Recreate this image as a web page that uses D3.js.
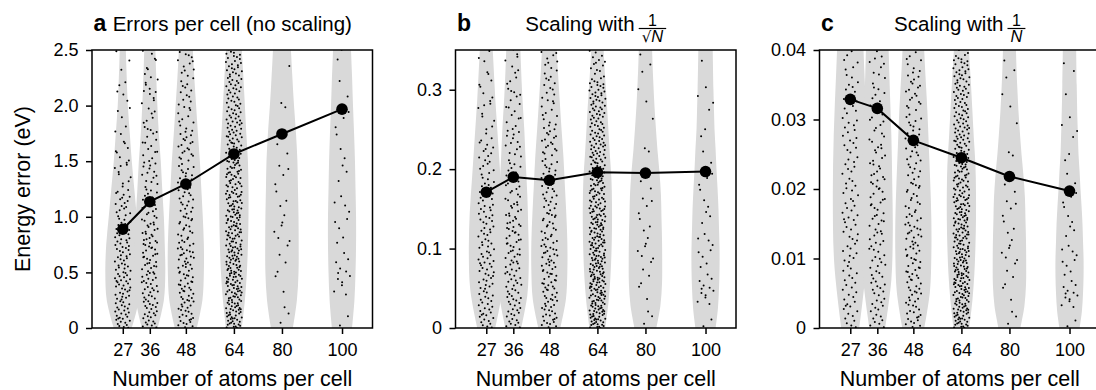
<!DOCTYPE html>
<html>
<head>
<meta charset="utf-8">
<script src="https://cdn.jsdelivr.net/npm/d3@7"></script>
<style>
  body { margin: 0; background: #fff; }
  svg { display: block; font-family: "Liberation Sans", Arial, sans-serif; }
</style>
</head>
<body>
<div id="chart"></div>
<script>
// categories
const atoms = [27, 36, 48, 64, 80, 100];

// mean error per cell
const meanNoScaling = [0.888, 1.136, 1.295, 1.565, 1.745, 1.968];
const meanSqrtScaled = [0.171, 0.190, 0.186, 0.196, 0.195, 0.197];
const meanPerAtom = [0.0329, 0.0316, 0.0270, 0.0245, 0.0218, 0.0197];

// tick values and labels
const ticksA = [0, 0.5, 1.0, 1.5, 2.0, 2.5];
const tickLabelsA = ['0', '0.5', '1.0', '1.5', '2.0', '2.5'];
const ticksB = [0, 0.1, 0.2, 0.3];
const tickLabelsB = ['0', '0.1', '0.2', '0.3'];
const ticksC = [0, 0.01, 0.02, 0.03, 0.04];
const tickLabelsC = ['0', '0.01', '0.02', '0.03', '0.04'];

// violin outlines: relative density at these error levels (eV, unscaled)
const densityLevels = [0, 0.25, 0.5, 0.75, 1, 1.25, 1.5, 1.75, 2, 2.25, 2.5, 2.75, 3, 3.5, 4];
const density27 = [0.50, 0.89, 0.97, 0.92, 0.78, 0.64, 0.50, 0.39, 0.28, 0.22, 0.17, 0.14, 0.11, 0.08, 0.06];
const density36 = [0.44, 0.78, 0.86, 0.83, 0.78, 0.69, 0.61, 0.50, 0.42, 0.36, 0.31, 0.28, 0.25, 0.19, 0.17];
const density48 = [0.61, 0.92, 1.00, 1.00, 0.94, 0.86, 0.78, 0.67, 0.57, 0.47, 0.39, 0.33, 0.28, 0.22, 0.17];
const density64 = [0.44, 0.61, 0.72, 0.78, 0.81, 0.81, 0.78, 0.69, 0.61, 0.53, 0.44, 0.36, 0.31, 0.25, 0.22];
const density80 = [0.61, 0.83, 0.92, 0.93, 0.92, 0.89, 0.86, 0.78, 0.67, 0.58, 0.50, 0.44, 0.39, 0.33, 0.31];
const density100 = [0.56, 0.69, 0.75, 0.78, 0.78, 0.75, 0.72, 0.67, 0.61, 0.56, 0.50, 0.47, 0.44, 0.40, 0.37];

// strip points: number of cells in each 0.25 eV bin from 0 to 4 eV
const binWidth = 0.25;
const counts27 = [28, 28, 25, 22, 18, 10, 8, 5, 5, 3, 2, 1, 1, 0, 0, 0];
const counts36 = [25, 24, 24, 22, 18, 14, 12, 10, 10, 8, 4, 2, 1, 1, 0, 0];
const counts48 = [25, 25, 24, 20, 18, 16, 18, 12, 12, 12, 6, 3, 1, 1, 0, 0];
const counts64 = [45, 45, 42, 40, 38, 34, 32, 28, 26, 24, 14, 8, 3, 2, 1, 1];
const counts80 = [3, 2, 4, 5, 4, 4, 2, 1, 1, 1, 2, 2, 1, 0, 0, 0];
const counts100 = [2, 7, 5, 5, 4, 3, 3, 3, 2, 1, 2, 2, 1, 1, 1, 1];

const densities = [density27, density36, density48, density64, density80, density100];
const counts = [counts27, counts36, counts48, counts64, counts80, counts100];

const width = 1096, height = 390;
const plotW = 280.5, plotTop = 50, plotBottom = 328;
const jitter = 8;

const panels = [
  { left: 92, letter: 'a', title: 'Errors per cell (no scaling)', div: n => 1,
    yMax: 2.5, ticks: ticksA, labels: tickLabelsA, mean: meanNoScaling },
  { left: 455.5, letter: 'b', title: 'Scaling with', frac: 'sqrt', div: n => Math.sqrt(n),
    yMax: 0.35, ticks: ticksB, labels: tickLabelsB, mean: meanSqrtScaled },
  { left: 819.5, letter: 'c', title: 'Scaling with', frac: 'n', div: n => n,
    yMax: 0.04, ticks: ticksC, labels: tickLabelsC, mean: meanPerAtom }
];

const svg = d3.select('#chart').append('svg')
  .attr('width', width)
  .attr('height', height)
  .style('background', '#fff');

// quasi-random spread (Halton), so the strip has no randomness
function halton(i, b) {
  let f = 1, r = 0;
  while (i > 0) { f /= b; r += f * (i % b); i = Math.floor(i / b); }
  return r;
}

// place every counted cell inside its bin
const strips = counts.map((cs, ci) => {
  const pts = [];
  let n = ci * 997 + 1;
  cs.forEach((c, b) => {
    for (let k = 0; k < c; k++, n++) {
      pts.push({ v: (b + halton(n, 3)) * binWidth, j: halton(n, 2) * 2 - 1 });
    }
  });
  return pts;
});

const wScale = d3.scaleLinear([0, 1], [0, 18]);

panels.forEach((p, pi) => {
  const g = svg.append('g').attr('transform', `translate(${p.left}, 0)`);
  const x = d3.scaleLinear([16.75, 110.15], [0, plotW]);
  const y = d3.scaleLinear([0, p.yMax], [plotBottom, plotTop]);

  g.append('clipPath').attr('id', 'clip' + pi)
    .append('rect')
    .attr('x', 0).attr('y', plotTop)
    .attr('width', plotW).attr('height', plotBottom - plotTop);

  const body = g.append('g').attr('clip-path', `url(#clip${pi})`);

  // violins
  atoms.forEach((n, i) => {
    const cx = x(n);
    const area = d3.area()
      .curve(d3.curveCatmullRom.alpha(0.5))
      .y(d => y(d.v / p.div(n)))
      .x0(d => cx - wScale(d.d))
      .x1(d => cx + wScale(d.d));
    const pts = densityLevels.map((v, k) => ({ v: v, d: densities[i][k] }));
    body.append('path')
      .attr('d', area(pts))
      .attr('fill', '#d9d9d9');
  });

  // strip points
  atoms.forEach((n, i) => {
    body.append('g').selectAll('circle')
      .data(strips[i].filter(d => d.v / p.div(n) <= p.yMax * 1.02))
      .join('circle')
      .attr('cx', d => x(n) + d.j * jitter)
      .attr('cy', d => y(d.v / p.div(n)))
      .attr('r', 1)
      .attr('fill', '#000');
  });

  // mean line
  const line = d3.line()
    .x((d, i) => x(atoms[i]))
    .y(d => y(d));
  body.append('path')
    .attr('d', line(p.mean))
    .attr('fill', 'none')
    .attr('stroke', '#000')
    .attr('stroke-width', 2);
  body.selectAll('.mean')
    .data(p.mean)
    .join('circle')
    .attr('class', 'mean')
    .attr('cx', (d, i) => x(atoms[i]))
    .attr('cy', d => y(d))
    .attr('r', 5.8)
    .attr('fill', '#000');

  // frame
  g.append('rect')
    .attr('x', 0).attr('y', plotTop)
    .attr('width', plotW).attr('height', plotBottom - plotTop)
    .attr('fill', 'none')
    .attr('stroke', '#000')
    .attr('stroke-width', 1.5);

  // axes
  const axisX = d3.axisBottom(x)
    .tickValues(atoms)
    .tickSize(6)
    .tickPadding(9)
    .tickSizeOuter(0);
  const gx = g.append('g')
    .attr('transform', `translate(0, ${plotBottom})`)
    .call(axisX);

  const axisY = d3.axisLeft(y)
    .tickValues(p.ticks)
    .tickFormat((d, i) => p.labels[i])
    .tickSize(6)
    .tickPadding(7.5)
    .tickSizeOuter(0);
  const gy = g.append('g').call(axisY);

  [gx, gy].forEach(a => {
    a.select('.domain').remove();
    a.selectAll('line').attr('stroke', '#000').attr('stroke-width', 1.5);
    a.selectAll('text')
      .attr('fill', '#000')
      .style('font-size', '18px')
      .style('font-family', '"Liberation Sans", Arial, sans-serif');
  });

  g.append('text')
    .attr('x', plotW / 2)
    .attr('y', 386)
    .attr('text-anchor', 'middle')
    .style('font-size', '21.5px')
    .text('Number of atoms per cell');

  // panel letter + title
  g.append('text')
    .attr('x', 1.5)
    .attr('y', 31)
    .style('font-size', '23px')
    .style('font-weight', 'bold')
    .text(p.letter);

  const tg = g.append('g');
  const main = tg.append('text')
    .attr('x', 0).attr('y', 31)
    .style('font-size', '20.5px')
    .text(p.title);
  let total = main.node().getComputedTextLength();

  if (p.frac) {
    const fx = total + 4;
    const den = tg.append('text').attr('y', 42).style('font-size', '16.5px');
    if (p.frac === 'sqrt') {
      den.append('tspan')
        .style('font-family', '"DejaVu Sans", sans-serif')
        .style('font-size', '15px')
        .text('\u221A');
    }
    den.append('tspan').style('font-style', 'italic').text('N');
    const dw = den.node().getComputedTextLength();
    const bw = dw + 6;
    den.attr('x', fx + bw / 2).attr('text-anchor', 'middle');
    tg.append('line')
      .attr('x1', fx).attr('x2', fx + bw)
      .attr('y1', 28.5).attr('y2', 28.5)
      .attr('stroke', '#000').attr('stroke-width', 1.2);
    tg.append('text')
      .attr('x', fx + bw / 2).attr('y', 26)
      .attr('text-anchor', 'middle')
      .style('font-size', '16px')
      .text('1');
    total = fx + bw;
  }
  tg.attr('transform', `translate(${plotW / 2 - total / 2}, 0)`);

  if (pi === 0) {
    g.append('text')
      .attr('transform', `translate(-70, ${(plotTop + plotBottom) / 2}) rotate(-90)`)
      .attr('text-anchor', 'middle')
      .attr('dy', '0.35em')
      .style('font-size', '21.5px')
      .text('Energy error (eV)');
  }
});
</script>
</body>
</html>
